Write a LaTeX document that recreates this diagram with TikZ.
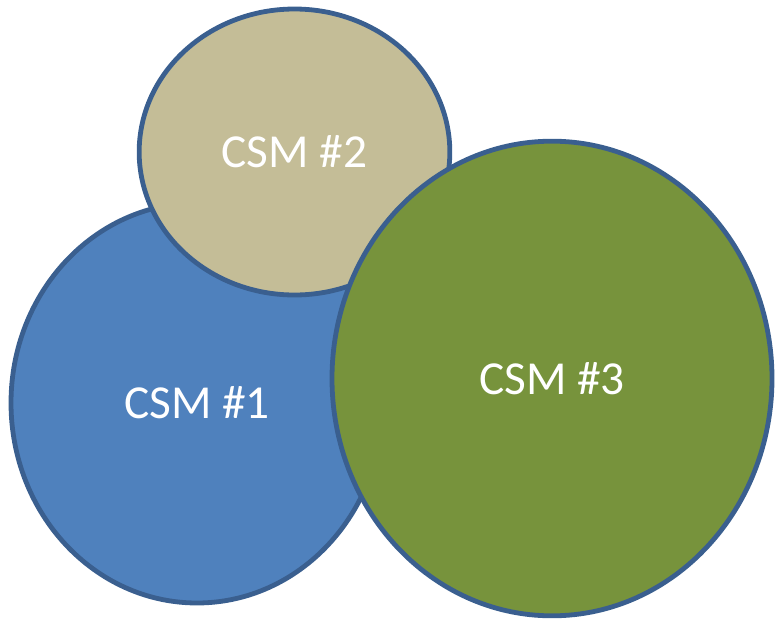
\documentclass[tikz,border=0pt]{standalone}
\usepackage{fontspec}
\setmainfont{Carlito}
\usepackage{tikz}
\usetikzlibrary{shapes.geometric}
\definecolor{csmBorder}{HTML}{3A5F8F}
\definecolor{csmBlue}{HTML}{4F81BD}
\definecolor{csmTan}{HTML}{C4BD97}
\definecolor{csmGreen}{HTML}{77933C}
\tikzset{
    csm/.style={ellipse, draw=csmBorder, line width=3.6pt, inner sep=0pt, text=white, font=\fontsize{35.5}{42}\selectfont}
}

\begin{document}
\begin{tikzpicture}[x=0.75pt, y=-0.75pt]
        \useasboundingbox (0,0) rectangle (775,621);

        % Machines
        \node[csm, fill=csmBlue, minimum width=279pt, minimum height=300pt] (CSM1) at (197,403) {CSM \#1};
        \node[csm, fill=csmTan, minimum width=233pt, minimum height=214.5pt] (CSM2) at (294.5,152) {CSM \#2};
        \node[csm, fill=csmGreen, minimum width=330pt, minimum height=356pt] (CSM3) at (552,378.5) {CSM \#3};
    \end{tikzpicture}
\end{document}
